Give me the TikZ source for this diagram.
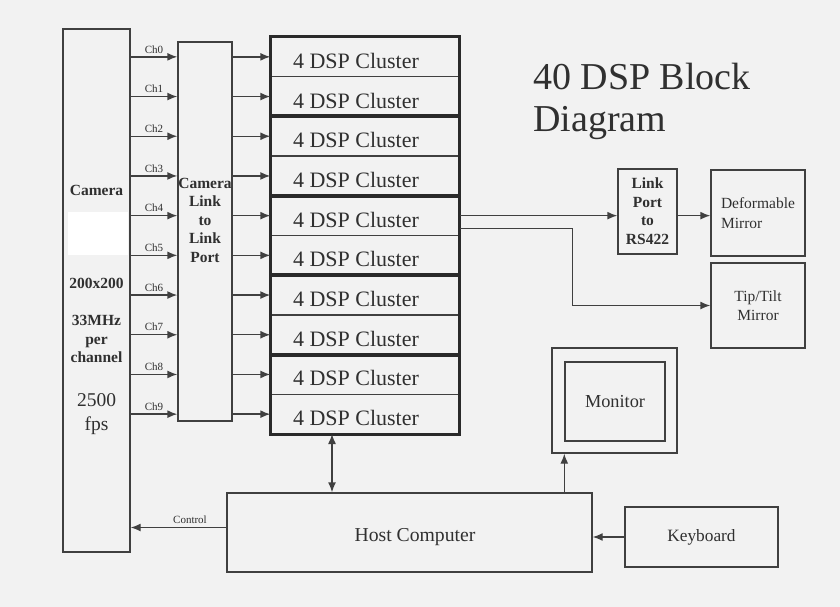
\documentclass[tikz,border=0pt]{standalone}
\usepackage{fontspec}
\setmainfont{Liberation Serif}
\usetikzlibrary{arrows.meta,calc}
\definecolor{ink}{HTML}{404040}
\definecolor{heavy}{HTML}{2A2A2A}
\definecolor{paper}{HTML}{F2F2F2}
\definecolor{txt}{HTML}{303030}

\begin{document}
\begin{tikzpicture}[x=1pt,y=-1pt,
  box/.style={rectangle,draw=ink,line width=1.4pt,inner sep=0pt},
  conn/.style={draw=ink,line width=1.4pt,-{Latex[length=10pt,width=8pt]}},
  dblconn/.style={draw=ink,line width=1.4pt,{Latex[length=10pt,width=8pt]}-{Latex[length=10pt,width=8pt]}},
  pairbox/.style={draw=heavy,line width=2.8pt},
  plain/.style={text=txt,inner sep=0pt,align=center},
  boldtext/.style={plain,font=\fontsize{15.5}{18.5}\selectfont\bfseries},
  smalltext/.style={text=txt,inner sep=3pt,font=\fontsize{11}{11}\selectfont}]

% page and margins
\fill[paper] (0,0) rectangle (840,607);
\useasboundingbox (0,0) rectangle (840,607);

% Camera on the left
\node[box,minimum width=67,minimum height=523] (camera) at (96.5,290.5) {};
\node[rectangle,fill=white,minimum width=60,minimum height=43,inner sep=0pt] (patch) at (98,233.5) {};
\node[boldtext] (camname) at (96.5,190) {Camera};
\node[boldtext] (camres) at (96.5,283) {200x200};
\node[boldtext] (camclock) at (96.5,339) {33MHz\\per\\channel};
\node[plain,font=\fontsize{19.5}{24}\selectfont] (camrate) at (96.5,414) {2500\\fps};

% Camera Link to Link Port
\node[box,minimum width=54,minimum height=379] (linkport) at (205,231.5) {};
\node[boldtext] (linktext) at (205,220) {Camera\\Link\\to\\Link\\Port};

% the 10 clusters, thick frame round each pair
\foreach \i in {0,...,9} {
  \node[box,minimum width=188,minimum height=39.7] (dsp\i) at (365,{37+39.7*(\i+0.5)}) {};
  \node[plain,font=\fontsize{22}{22}\selectfont] (dsplabel\i) at ($(dsp\i)+(-9,4)$) {4 DSP Cluster};
}
\foreach \j in {0,2,4,6,8} {
  \pgfmathtruncatemacro\k{\j+1}
  \draw[pairbox] (dsp\j.north west) rectangle (dsp\k.south east);
}

% channels
\foreach \i in {0,...,9} {
  \draw[conn] (camera.east |- dsp\i) -- (linkport.west |- dsp\i) node[smalltext,midway,above] {Ch\i};
  \draw[conn] (linkport.east |- dsp\i) -- (dsp\i.west);
}

% title
\node[plain,align=left,anchor=west,font=\fontsize{38}{42}\selectfont] (title) at (533,101) {40 DSP Block\\Diagram};

% mirrors
\node[box,minimum width=59,minimum height=85] (rs422) at (647.5,211.5) {};
\node[boldtext] (rstext) at (647.5,211) {Link\\Port\\to\\RS422};
\node[box,minimum width=94,minimum height=86] (deformable) at (758,213) {};
\node[plain,align=left,font=\fontsize{15.5}{20}\selectfont] (deftext) at (758,213) {Deformable\\Mirror};
\node[box,minimum width=94,minimum height=85] (tiptilt) at (758,305.5) {};
\node[plain,font=\fontsize{15.5}{19}\selectfont] (tttext) at (758,306) {Tip/Tilt\\Mirror};

\coordinate (tap) at ($(dsp4.east)+(0,13)$);
\draw[conn] (dsp4.east) -- (dsp4.east -| rs422.west);
\draw[conn] (rs422.east |- dsp4) -- (deformable.west |- dsp4);
\draw[conn] (tap) -- ++(113,0) |- (tiptilt.west);

% host, monitor, keyboard
\node[box,minimum width=365,minimum height=79] (host) at (409.5,532.5) {};
\node[plain,font=\fontsize{19.7}{19.7}\selectfont] (hosttext) at (415,537) {Host Computer};
\node[box,minimum width=125,minimum height=105] (monitor) at (614.5,400.5) {};
\node[box,minimum width=100,minimum height=79,font=\fontsize{18.3}{18.3}\selectfont,text=txt] (screen) at (615,401.5) {Monitor};
\node[box,minimum width=153,minimum height=60,font=\fontsize{17.3}{17.3}\selectfont,text=txt] (keyboard) at (701.5,537) {Keyboard};

\coordinate (bus) at (332,434);
\draw[dblconn] (bus) -- (bus |- host.north);
\draw[conn] (screen.west |- host.north) -- (screen.west |- monitor.south);
\draw[conn] (keyboard.west) -- (host.east |- keyboard.west);
\draw[conn] ($(host.west)+(0,-5)$) -- ($(host.west -| camera.east)+(0,-5)$) node[smalltext,pos=0.38,above] {Control};
\end{tikzpicture}
\end{document}
